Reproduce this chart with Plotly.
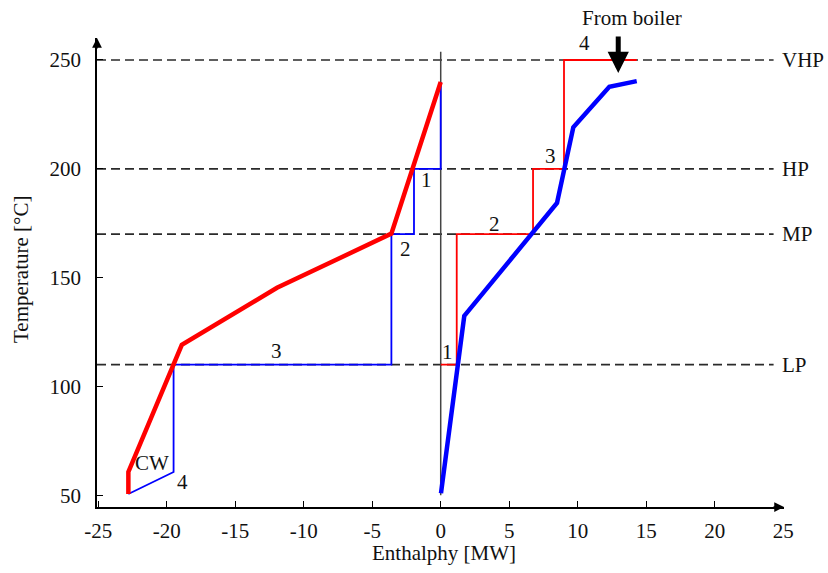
import plotly.graph_objects as go

# ---- data ----
# Hot composite (left, red thick)
hot_h = [-22.8, -22.8, -18.9, -11.95, -3.6, 0.0]
hot_t = [50.6, 60.7, 119.1, 145.3, 170.2, 239.9]
# Steam generation steps (left, blue thin)
gen_h = [0.0, 0.0, -1.95, -1.95, -3.6, -3.6, -19.5, -19.5, -22.8]
gen_t = [239.9, 200, 200, 170, 170, 110, 110, 60.7, 50.6]
# Cold composite (right, blue thick)
cold_h = [0.02, 1.72, 8.49, 9.68, 12.31, 14.31]
cold_t = [50.9, 132.4, 184.3, 219.1, 237.7, 240.3]
# Steam usage steps (right, red thin)
use_h = [0.0, 1.17, 1.17, 6.74, 6.74, 9.0, 9.0, 14.31]
use_t = [110, 110, 170, 170, 200, 200, 250, 250]
# Pressure levels
level_names = ["VHP", "HP", "MP", "LP"]
level_temps = [250, 200, 170, 110]
# Step labels
lab_text = ["1", "2", "3", "4", "CW", "1", "2", "3", "4"]
lab_h = [-1.07, -2.6, -12.0, -18.86, -21.1, 0.51, 3.96, 7.98, 10.46]
lab_t = [194.9, 163.2, 116.3, 56.2, 64.8, 116.0, 174.6, 205.9, 258.0]

x_ticks = [-25, -20, -15, -10, -5, 0, 5, 10, 15, 20, 25]
y_ticks = [50, 100, 150, 200, 250]

FONT = "Liberation Serif, Times New Roman, DejaVu Serif, serif"
FS = 21
TXT = "#111111"

X0, X1 = -25.09, 25.06
Y0, Y1 = 44.6, 260.1

fig = go.Figure()

# dashed level lines
for t in level_temps:
    fig.add_trace(go.Scatter(x=[X0, 24.3], y=[t, t], mode="lines",
                             line=dict(color="#2a2a2a", width=1.7, dash="9px,5px"),
                             hoverinfo="skip", showlegend=False))

# vertical zero line
fig.add_trace(go.Scatter(x=[0, 0], y=[50, 253.8], mode="lines",
                         line=dict(color="#444444", width=1.5),
                         hoverinfo="skip", showlegend=False))

# thin step lines
fig.add_trace(go.Scatter(x=gen_h, y=gen_t, mode="lines",
                         line=dict(color="#0000FF", width=1.8), showlegend=False))
fig.add_trace(go.Scatter(x=use_h, y=use_t, mode="lines",
                         line=dict(color="#FF0000", width=1.8), showlegend=False))
# thick composites
fig.add_trace(go.Scatter(x=hot_h, y=hot_t, mode="lines",
                         line=dict(color="#FF0000", width=4.5), showlegend=False))
fig.add_trace(go.Scatter(x=cold_h, y=cold_t, mode="lines",
                         line=dict(color="#0000FF", width=4.5), showlegend=False))

annotations = []
for txt, h, t in zip(lab_text, lab_h, lab_t):
    annotations.append(dict(x=h, y=t, text=txt, showarrow=False,
                            xanchor="center", yanchor="middle",
                            font=dict(family=FONT, size=FS, color=TXT)))
for name, t in zip(level_names, level_temps):
    annotations.append(dict(x=24.8, y=t, text=name, showarrow=False,
                            xanchor="left", yanchor="middle",
                            font=dict(family=FONT, size=FS, color=TXT)))

# From boiler arrow
annotations.append(dict(x=13.94, y=(507 - 18) / 469, yref="paper",
                        xanchor="center", yanchor="middle",
                        text="From boiler", showarrow=False,
                        font=dict(family=FONT, size=FS, color=TXT)))
annotations.append(dict(x=12.96, y=244.0, ax=12.96, ay=261.5, axref="x", ayref="y",
                        text="", showarrow=True, arrowhead=2, arrowsize=0.85,
                        arrowwidth=5, arrowcolor="black"))

# axis arrowheads
annotations.append(dict(x=0, y=1, xref="paper", yref="paper", ax=0, ay=12,
                        text="", showarrow=True, arrowhead=2, arrowsize=1.3,
                        arrowwidth=1.5, arrowcolor="black"))
annotations.append(dict(x=1, y=0, xref="paper", yref="paper", ax=-12, ay=0,
                        text="", showarrow=True, arrowhead=2, arrowsize=1.3,
                        arrowwidth=1.5, arrowcolor="black"))

# axis titles
annotations.append(dict(x=(444 - 97) / 687, y=(507 - 553) / 469, xref="paper", yref="paper",
                        xanchor="center", yanchor="middle",
                        text="Enthalphy [MW]", showarrow=False,
                        font=dict(family=FONT, size=FS, color=TXT)))
annotations.append(dict(x=(21 - 97) / 687, y=(507 - 270) / 469, xref="paper", yref="paper",
                        xanchor="center", yanchor="middle",
                        text="Temperature [°C]", showarrow=False, textangle=-90,
                        font=dict(family=FONT, size=FS, color=TXT)))

fig.update_layout(
    width=828, height=573,
    margin=dict(l=97, r=44, t=38, b=66),
    paper_bgcolor="white", plot_bgcolor="white",
    annotations=annotations,
    font=dict(family=FONT, size=FS, color=TXT),
    showlegend=False,
)

fig.update_xaxes(range=[X0, X1], tickvals=x_ticks, ticktext=[str(v) for v in x_ticks],
                 showgrid=False, zeroline=False, showline=True, linecolor="black", linewidth=1.5,
                 ticks="inside", ticklen=6, tickcolor="black", tickwidth=1,
                 tickfont=dict(family=FONT, size=FS, color=TXT), ticklabelstandoff=4)
fig.update_yaxes(range=[Y0, Y1], tickvals=y_ticks, ticktext=[str(v) for v in y_ticks],
                 showgrid=False, zeroline=False, showline=True, linecolor="black", linewidth=1.5,
                 ticks="inside", ticklen=6, tickcolor="black", tickwidth=1,
                 tickfont=dict(family=FONT, size=FS, color=TXT), ticklabelstandoff=10)

fig.write_html("out.html")
